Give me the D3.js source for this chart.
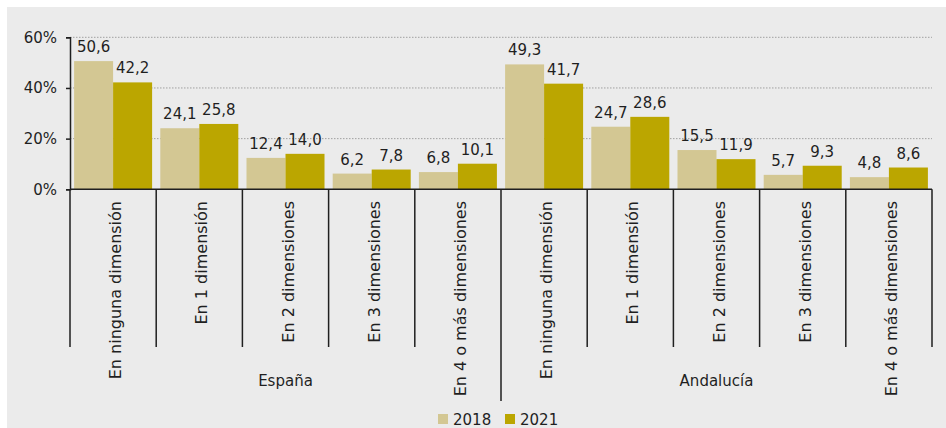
<!DOCTYPE html>
<html>
<head>
<meta charset="utf-8">
<script src="https://cdn.jsdelivr.net/npm/d3@7"></script>
<style>
  html, body { margin: 0; padding: 0; background: #ffffff; }
  svg { display: block; }
  text { font-family: "DejaVu Sans", sans-serif; fill: #1f1f1f; }
</style>
</head>
<body>
<svg id="chart" width="946" height="428"></svg>
<script>
// Regions and the categories repeated under each one
const regions = ["España", "Andalucía"];
const categories = [
  "En ninguna dimensión",
  "En 1 dimensión",
  "En 2 dimensiones",
  "En 3 dimensiones",
  "En 4 o más dimensiones"
];
const seriesNames = ["2018", "2021"];
// Percent of population, per region, per category
const values2018 = [50.6, 24.1, 12.4, 6.2, 6.8, 49.3, 24.7, 15.5, 5.7, 4.8];
const values2021 = [42.2, 25.8, 14.0, 7.8, 10.1, 41.7, 28.6, 11.9, 9.3, 8.6];
const yTicks = [0, 20, 40, 60];

const colors = { "2018": "#d3c793", "2021": "#bba600" };
const FONT = 15;

const svg = d3.select("#chart");
const W = 946, H = 428;

// light grey backdrop
svg.append("rect").attr("x", 7).attr("y", 7).attr("width", W - 7).attr("height", H - 7)
  .attr("fill", "#ebebeb");

const plotLeft = 70, plotRight = 932, plotTop = 37.3, plotBottom = 189.3;

// one slot per (region, category)
const slots = [];
regions.forEach((r, ri) => categories.forEach((c, ci) => slots.push({ region: r, category: c, i: ri * categories.length + ci })));

const x = d3.scaleBand().domain(slots.map(d => d.i)).range([plotLeft, plotRight]).padding(0);
const xSub = d3.scaleBand().domain(seriesNames).range([0, x.bandwidth()]).paddingOuter(0.105).paddingInner(0);
const y = d3.scaleLinear().domain([0, 60]).range([plotBottom, plotTop]);

// dotted gridlines
svg.append("g").selectAll("line").data(yTicks.filter(t => t > 0)).join("line")
  .attr("x1", plotLeft).attr("x2", plotRight)
  .attr("y1", d => y(d)).attr("y2", d => y(d))
  .attr("stroke", "#a0a0a0").attr("stroke-width", 1).attr("stroke-dasharray", "1.5,1.5");

// y axis
const yAxis = svg.append("g").attr("transform", `translate(${plotLeft},0)`)
  .call(d3.axisLeft(y).tickValues(yTicks).tickFormat(d => d + "%").tickSize(4).tickPadding(9));
yAxis.select(".domain").attr("stroke", "#1f1f1f").attr("stroke-width", 1.5);
yAxis.selectAll(".tick line").attr("stroke", "#1f1f1f").attr("stroke-width", 1.5);
yAxis.selectAll(".tick text").attr("font-size", FONT).attr("fill", "#1f1f1f")
  .style("font-family", "'DejaVu Sans', sans-serif");

// bars with value labels
const series = [
  { name: "2018", values: values2018 },
  { name: "2021", values: values2021 }
];
const barGroups = svg.append("g");
series.forEach(s => {
  barGroups.append("g").selectAll("rect").data(slots).join("rect")
    .attr("x", d => x(d.i) + xSub(s.name))
    .attr("width", xSub.bandwidth())
    .attr("y", d => y(s.values[d.i]))
    .attr("height", d => y(0) - y(s.values[d.i]))
    .attr("fill", colors[s.name]);
  barGroups.append("g").selectAll("text").data(slots).join("text")
    .attr("x", d => x(d.i) + xSub(s.name) + xSub.bandwidth() / 2)
    .attr("y", d => y(s.values[d.i]) - 9)
    .attr("text-anchor", "middle")
    .attr("font-size", FONT)
    .text(d => d3.format(".1f")(s.values[d.i]).replace(".", ","));
});

// x axis baseline
svg.append("line").attr("x1", plotLeft).attr("x2", plotRight).attr("y1", plotBottom).attr("y2", plotBottom)
  .attr("stroke", "#1f1f1f").attr("stroke-width", 1.5);

// category separators; the one between regions reaches lower
const edges = d3.range(slots.length + 1);
const edgeX = i => i < slots.length ? x(i) : x(slots.length - 1) + x.bandwidth();
svg.append("g").selectAll("line").data(edges).join("line")
  .attr("x1", edgeX).attr("x2", edgeX)
  .attr("y1", plotBottom)
  .attr("y2", i => (i === categories.length) ? 401 : 347)
  .attr("stroke", "#1f1f1f").attr("stroke-width", 1.5);

// rotated category labels
svg.append("g").selectAll("text").data(slots).join("text")
  .attr("transform", d => `translate(${x(d.i) + x.bandwidth() / 2 + 8},201) rotate(-90)`)
  .attr("text-anchor", "end")
  .attr("font-size", 16)
  .text(d => d.category);

// region labels
svg.append("g").selectAll("text").data(regions).join("text")
  .attr("x", (r, ri) => (edgeX(ri * categories.length) + edgeX((ri + 1) * categories.length)) / 2)
  .attr("y", 386)
  .attr("text-anchor", "middle")
  .attr("font-size", FONT)
  .text(d => d);

// legend
const legend = svg.append("g").attr("transform", "translate(438,414)");
seriesNames.forEach((n, i) => {
  const g = legend.append("g").attr("transform", `translate(${i * 67},0)`);
  g.append("rect").attr("width", 10).attr("height", 10).attr("fill", colors[n]);
  g.append("text").attr("x", 15).attr("y", 10.5).attr("font-size", FONT).text(n);
});
</script>
</body>
</html>
